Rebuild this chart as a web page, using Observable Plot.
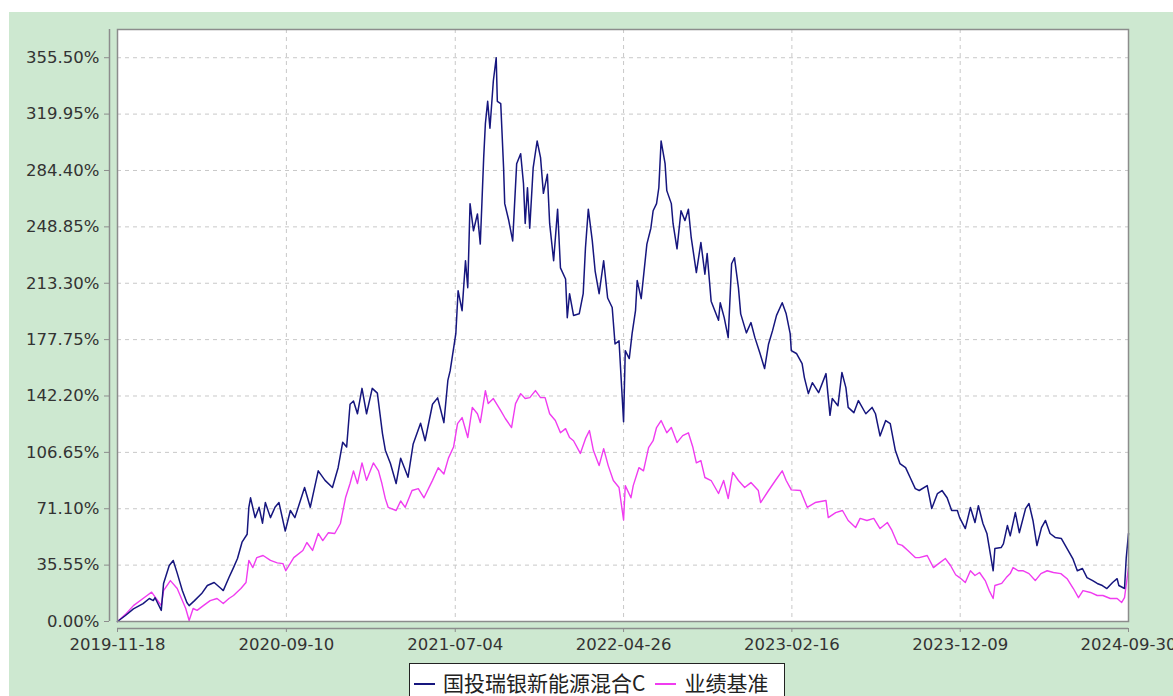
<!DOCTYPE html>
<html><head><meta charset="utf-8">
<script src="https://cdn.jsdelivr.net/npm/d3@7"></script>
<script src="https://cdn.jsdelivr.net/npm/@observablehq/plot@0.6"></script>
<style>
html,body{margin:0;padding:0;background:#fff;width:1173px;height:696px;overflow:hidden;}
#wrap{position:absolute;left:9px;top:12px;width:1164px;height:684px;background:#cde8d0;overflow:hidden;}
#chart{position:absolute;left:0;top:0;}
#legend{position:absolute;left:400px;top:651px;width:376px;height:33px;border:1.5px solid #222;border-bottom:none;background:#fff;
  font-family:"Noto Sans CJK SC",sans-serif;font-size:21px;color:#222;white-space:nowrap;padding:4px 0 0 4px;box-sizing:border-box;line-height:28px;}
.dash{display:inline-block;width:21px;height:2px;vertical-align:middle;margin-right:8px;position:relative;top:-1px;}
.item{margin-right:10px;}
</style>
</head><body>
<div id="wrap"><div id="chart"></div><div id="legend"></div></div>
<script>
const seriesNames = ["国投瑞银新能源混合C", "业绩基准"];
const seriesColors = ["#16167e", "#f03cf0"];
const yTicks = [0, 35.55, 71.1, 106.65, 142.2, 177.75, 213.3, 248.85, 284.4, 319.95, 355.5];
const xTickLabels = ["2019-11-18","2020-09-10","2021-07-04","2022-04-26","2023-02-16","2023-12-09","2024-09-30"];

const fundDates = ["2019-11-18","2019-12-02","2019-12-16","2020-01-02","2020-01-13","2020-01-20","2020-01-23","2020-02-03","2020-02-07","2020-02-17","2020-02-24","2020-03-02","2020-03-11","2020-03-19","2020-03-23","2020-04-01","2020-04-14","2020-04-24","2020-05-06","2020-05-18","2020-05-22","2020-06-01","2020-06-09","2020-06-16","2020-06-24","2020-07-03","2020-07-06","2020-07-09","2020-07-17","2020-07-24","2020-07-30","2020-08-04","2020-08-13","2020-08-21","2020-08-28","2020-09-08","2020-09-17","2020-09-25","2020-10-12","2020-10-22","2020-11-05","2020-11-17","2020-11-30","2020-12-10","2020-12-18","2020-12-25","2020-12-31","2021-01-06","2021-01-13","2021-01-21","2021-01-29","2021-02-08","2021-02-17","2021-02-26","2021-03-03","2021-03-12","2021-03-22","2021-03-30","2021-04-12","2021-04-21","2021-05-04","2021-05-12","2021-05-25","2021-06-03","2021-06-08","2021-06-14","2021-06-21","2021-06-25","2021-07-05","2021-07-09","2021-07-16","2021-07-22","2021-07-26","2021-07-30","2021-08-05","2021-08-12","2021-08-17","2021-08-20","2021-08-23","2021-08-26","2021-08-30","2021-09-03","2021-09-09","2021-09-14","2021-09-16","2021-09-22","2021-09-27","2021-09-29","2021-10-06","2021-10-13","2021-10-20","2021-10-27","2021-11-01","2021-11-04","2021-11-08","2021-11-12","2021-11-18","2021-11-25","2021-12-01","2021-12-06","2021-12-13","2021-12-17","2021-12-24","2021-12-31","2022-01-05","2022-01-14","2022-01-17","2022-01-21","2022-01-28","2022-02-07","2022-02-14","2022-02-18","2022-02-23","2022-03-02","2022-03-07","2022-03-14","2022-03-22","2022-03-29","2022-04-06","2022-04-11","2022-04-18","2022-04-26","2022-04-29","2022-05-06","2022-05-11","2022-05-17","2022-05-20","2022-05-27","2022-06-06","2022-06-13","2022-06-17","2022-06-23","2022-06-27","2022-07-01","2022-07-08","2022-07-11","2022-07-19","2022-07-22","2022-07-29","2022-08-05","2022-08-12","2022-08-18","2022-08-23","2022-09-01","2022-09-09","2022-09-16","2022-09-20","2022-09-27","2022-10-10","2022-10-13","2022-10-20","2022-10-27","2022-11-02","2022-11-07","2022-11-14","2022-11-18","2022-11-28","2022-12-06","2022-12-13","2022-12-22","2022-12-30","2023-01-06","2023-01-13","2023-01-20","2023-01-30","2023-02-06","2023-02-13","2023-02-15","2023-02-24","2023-03-06","2023-03-10","2023-03-17","2023-03-24","2023-04-04","2023-04-17","2023-04-21","2023-04-24","2023-04-28","2023-05-08","2023-05-15","2023-05-22","2023-05-26","2023-06-05","2023-06-13","2023-06-26","2023-07-07","2023-07-13","2023-07-21","2023-07-31","2023-08-08","2023-08-17","2023-08-25","2023-09-04","2023-09-12","2023-09-21","2023-09-28","2023-10-12","2023-10-20","2023-10-30","2023-11-07","2023-11-16","2023-11-24","2023-12-04","2023-12-08","2023-12-18","2023-12-27","2024-01-04","2024-01-10","2024-01-18","2024-01-25","2024-02-05","2024-02-08","2024-02-19","2024-02-23","2024-03-01","2024-03-06","2024-03-15","2024-03-22","2024-04-02","2024-04-08","2024-04-15","2024-04-22","2024-04-30","2024-05-07","2024-05-15","2024-05-24","2024-06-04","2024-06-14","2024-06-24","2024-07-02","2024-07-11","2024-07-19","2024-07-29","2024-08-06","2024-08-15","2024-08-23","2024-09-02","2024-09-10","2024-09-13","2024-09-23","2024-09-26","2024-09-30"];
const fundValues = [0,3.8,8,11.3,14.5,13.2,15,7,24,35.3,38.5,30.5,19.5,12,10,13,17.6,22.7,24.6,20.8,19.5,27.7,34,39.7,50,55,72,78,65.5,72,62,75,65.5,72,75,57,70,65.5,84.5,72,95,89,84.5,97,113,110,137,139,131,147,131,147,144,118.5,108,99.6,87,103,91,112,125,114,137,141,134,125.4,152,158,181.5,208.6,196,227.5,210.5,263.5,246.4,257,238,265,292.5,314,328,311,341,355.5,328,326.5,286,263.5,253,240,288.7,295,276,251,273.5,248,286,303,292.5,270,282,251,227.5,260,223,216,191.6,206.7,193,194,206.7,235.7,260,240,221,206.7,227.5,204,198,175,177,126,170.8,165.8,181.5,196,215,203.6,238,248,259,263.5,273.5,303,288.7,271.7,263.5,251,235,259,252.8,260,242,220,239,219,232,202,190,201,191.6,179,225.6,229.4,210.5,194,182,188.5,179,169,159.5,175,183.4,193,201,194,181.5,170.8,169,162.6,153.8,143.7,150.6,144.3,156.3,141.2,130,140.6,136,157,147.5,135,131.7,139.3,131,135,131,117,126.7,124.8,107.8,99.6,97,90.8,83.8,82.6,85.7,71.2,80.7,82.6,78,70,70,65.5,58.6,71.9,62.4,73,61.8,55.5,32,46,46.6,49,60.5,54,68.7,56,71.2,74.4,63.7,47.9,59.2,63.7,55.5,53,52.3,46,39.7,32,33.4,27.7,25.8,24,22.7,20.8,24.6,27,22.7,20.8,40,55.5];

const benchDates = ["2019-11-18","2019-12-02","2019-12-16","2020-01-09","2020-01-17","2020-02-03","2020-02-07","2020-02-19","2020-03-02","2020-03-11","2020-03-17","2020-03-23","2020-03-30","2020-04-06","2020-04-17","2020-04-29","2020-05-11","2020-05-22","2020-06-01","2020-06-09","2020-06-22","2020-07-01","2020-07-06","2020-07-13","2020-07-20","2020-07-31","2020-08-13","2020-08-25","2020-09-04","2020-09-09","2020-09-23","2020-10-09","2020-10-16","2020-10-26","2020-11-05","2020-11-13","2020-11-23","2020-12-04","2020-12-14","2020-12-23","2020-12-31","2021-01-06","2021-01-13","2021-01-21","2021-01-29","2021-02-10","2021-02-19","2021-02-25","2021-03-03","2021-03-08","2021-03-22","2021-03-30","2021-04-07","2021-04-19","2021-04-30","2021-05-10","2021-05-25","2021-06-04","2021-06-14","2021-06-22","2021-07-01","2021-07-08","2021-07-16","2021-07-26","2021-08-03","2021-08-12","2021-08-17","2021-08-26","2021-08-31","2021-09-09","2021-09-22","2021-09-30","2021-10-11","2021-10-18","2021-10-27","2021-11-04","2021-11-12","2021-11-22","2021-12-01","2021-12-09","2021-12-17","2021-12-27","2022-01-05","2022-01-14","2022-01-21","2022-01-28","2022-02-09","2022-02-18","2022-02-25","2022-03-04","2022-03-14","2022-03-22","2022-03-30","2022-04-08","2022-04-18","2022-04-26","2022-04-29","2022-05-09","2022-05-13","2022-05-23","2022-05-31","2022-06-09","2022-06-17","2022-06-23","2022-07-01","2022-07-11","2022-07-19","2022-07-29","2022-08-08","2022-08-18","2022-08-26","2022-09-01","2022-09-09","2022-09-16","2022-09-27","2022-10-10","2022-10-19","2022-10-27","2022-11-04","2022-11-14","2022-11-25","2022-12-06","2022-12-19","2022-12-23","2023-01-06","2023-01-18","2023-01-30","2023-02-06","2023-02-15","2023-03-03","2023-03-15","2023-03-29","2023-04-17","2023-04-21","2023-05-04","2023-05-16","2023-05-26","2023-06-08","2023-06-16","2023-06-28","2023-07-10","2023-07-21","2023-08-03","2023-08-11","2023-08-21","2023-08-29","2023-09-08","2023-09-21","2023-09-28","2023-10-12","2023-10-23","2023-11-01","2023-11-13","2023-11-22","2023-12-01","2023-12-08","2023-12-18","2023-12-27","2024-01-04","2024-01-12","2024-01-22","2024-01-29","2024-02-05","2024-02-08","2024-02-20","2024-02-28","2024-03-06","2024-03-11","2024-03-20","2024-03-29","2024-04-08","2024-04-19","2024-04-29","2024-05-10","2024-05-21","2024-06-03","2024-06-14","2024-06-25","2024-07-04","2024-07-12","2024-07-25","2024-08-06","2024-08-16","2024-08-29","2024-09-10","2024-09-18","2024-09-23","2024-09-30"];
const benchValues = [0,4.5,10,16.4,18.5,10,19.5,25.8,20.8,13.2,8.2,0.6,8.2,7,10,13.2,14.5,11.3,14.5,16.4,20.8,24.6,38.5,34,40.3,41.6,38.5,37,36.5,32,40.3,44.8,49.8,44.8,55.5,51,56,55.5,61.8,78,87,95,87,100,89,100,95,87,77.5,72,70,76,72,82.6,83.8,78,89,97,93,103,110,124.8,128.6,116,135,131,125.4,145.6,137.4,140.6,133,128,122.3,137.4,143.7,140.6,141.2,145.6,141.2,141.2,131,126.7,119,121.6,116,114,106,115.3,120.4,107.8,98.3,109,98.3,88.9,84.5,64,85.7,78,85.7,97,95,109.7,114,122.3,126.7,119,122.3,112.8,117.2,119,109.7,100,101.5,90.8,88.9,80.7,88.9,77.5,94,88.9,84.5,87.6,82.6,75,82.6,88.9,95,88.9,83,82.6,72,75,76.3,65.5,68.7,70,63.7,59.2,65,63.7,65,58.6,62.4,57.4,49,48,44.8,40.3,40.3,41.6,34,36.5,39.7,35.3,29.5,27.7,24.6,32,29,30.9,25.8,19.5,14.5,22.7,24,27.7,30.2,34,32,32,30.2,25.8,30.2,32,30.9,30.2,27,20.8,15,19.5,18.3,16.4,16.4,14.5,14.5,12,15,34];

const parse = s => new Date(s + "T00:00:00Z");
const fund = fundDates.map((d, i) => ({date: parse(d), value: fundValues[i]}));
const bench = benchDates.map((d, i) => ({date: parse(d), value: benchValues[i]}));
const xTicks = xTickLabels.map(parse);
const xStart = xTicks[0], xEnd = xTicks[xTicks.length - 1];
const axisGray = "#8c8c8c";

const chart = Plot.plot({
  width: 1164, height: 650,
  marginLeft: 108, marginRight: 45, marginTop: 17, marginBottom: 41,
  style: {background: "transparent", fontFamily: "DejaVu Sans, sans-serif", fontSize: "16.5px", color: "#333", overflow: "visible"},
  x: {type: "utc", domain: [xStart, xEnd], label: null},
  y: {domain: [0, 373.3], label: null},
  marks: [
    Plot.frame({fill: "white"}),
    Plot.gridY(yTicks, {stroke: "#c8c8c8", strokeOpacity: 1, strokeDasharray: "4,4"}),
    Plot.gridX(xTicks, {stroke: "#c8c8c8", strokeOpacity: 1, strokeDasharray: "4,4"}),
    Plot.lineY(bench, {x: "date", y: "value", stroke: seriesColors[1], strokeWidth: 1.4}),
    Plot.lineY(fund, {x: "date", y: "value", stroke: seriesColors[0], strokeWidth: 1.5}),
    Plot.frame({stroke: axisGray, strokeWidth: 1.5}),
    Plot.ruleX([xStart], {dx: -8, stroke: axisGray, strokeWidth: 1.5}),
    Plot.ruleY([0], {dy: 7, stroke: axisGray, strokeWidth: 1.5}),
    Plot.axisY(yTicks, {label: null, tickFormat: d => d.toFixed(2) + "%", tickSize: 5, tickPadding: 5, dx: -8, stroke: axisGray, fill: "#333"}),
    Plot.axisX(xTicks, {label: null, tickFormat: d3.utcFormat("%Y-%m-%d"), tickSize: 4, tickPadding: 6, dy: 7, stroke: axisGray, fill: "#333"})
  ]
});
document.getElementById("chart").appendChild(chart);

const legend = document.getElementById("legend");
seriesNames.forEach((name, i) => {
  const item = document.createElement("span");
  item.className = "item";
  const dash = document.createElement("span");
  dash.className = "dash";
  dash.style.background = seriesColors[i];
  item.appendChild(dash);
  item.appendChild(document.createTextNode(name));
  legend.appendChild(item);
});
</script>
</body></html>
